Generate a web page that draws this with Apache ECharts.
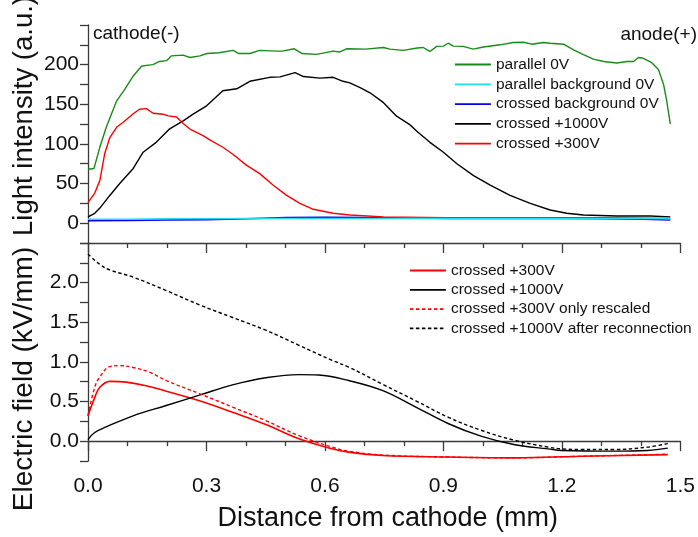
<!DOCTYPE html>
<html>
<head>
<meta charset="utf-8">
<script src="https://cdn.jsdelivr.net/npm/echarts@6/dist/echarts.min.js"></script>
<style>
  html, body { margin: 0; padding: 0; background: #fff; }
  #chart { width: 698px; height: 537px; }
</style>
</head>
<body>
<div id="chart"></div>
<script>
// ---- Light intensity (upper panel) ----
const parallelX = [0, 0.015, 0.03, 0.046, 0.072, 0.093, 0.113, 0.135, 0.147, 0.164, 0.18, 0.198, 0.21, 0.24, 0.257, 0.282, 0.30, 0.33, 0.366, 0.38, 0.408, 0.433, 0.475, 0.49, 0.52, 0.54, 0.576, 0.618, 0.635, 0.652, 0.70, 0.745, 0.761, 0.795, 0.83, 0.845, 0.862, 0.879, 0.896, 0.908, 0.921, 0.946, 0.971, 0.997, 1.039, 1.072, 1.098, 1.119, 1.148, 1.165, 1.199, 1.224, 1.249, 1.274, 1.30, 1.333, 1.359, 1.375, 1.388, 1.40, 1.42, 1.438, 1.451, 1.459, 1.468];
const parallelY = [68, 69, 96, 121, 154, 169, 185, 198, 199, 200, 204, 205, 211, 212, 209, 211, 214, 215, 218, 214, 214, 218, 217, 217, 220, 214, 213, 217, 216, 220, 219.6, 221.6, 219.6, 218, 221, 221.6, 216.6, 223, 223.4, 227, 223.4, 223, 219.6, 222.3, 225, 228, 228.3, 225.8, 228, 227, 225.8, 218.7, 212.5, 207, 204, 202, 204, 204, 209, 208, 203, 194, 175, 154, 125];

const bgX = [0, 0.1, 0.2, 0.3, 0.4, 0.5, 0.6, 0.7, 0.8, 0.9, 1.0, 1.1, 1.2, 1.3, 1.4, 1.468];
const parallelBgY = [5, 5, 5.5, 5.5, 6, 6, 6, 6, 6, 6, 6, 6, 6, 6, 6, 5.5];
const crossedBgY = [3, 3.5, 4, 4.5, 5.5, 7, 7.5, 7, 6.5, 6, 6, 6, 6, 5.5, 5, 4];

const light1000X = [0, 0.017, 0.03, 0.055, 0.08, 0.114, 0.139, 0.172, 0.206, 0.24, 0.265, 0.299, 0.34, 0.375, 0.408, 0.458, 0.484, 0.522, 0.543, 0.585, 0.618, 0.643, 0.66, 0.686, 0.711, 0.745, 0.778, 0.812, 0.829, 0.862, 0.896, 0.93, 0.972, 1.014, 1.064, 1.115, 1.165, 1.207, 1.249, 1.333, 1.417, 1.468];
const light1000Y = [8, 12.5, 19, 35, 50, 69, 89.5, 102, 119, 129, 137.5, 148, 167, 169.5, 179, 184, 184.5, 190, 185, 183, 184, 179, 177, 171, 164.5, 152, 135, 124, 116, 102, 89.5, 75, 60, 48, 35, 25, 16.6, 12.5, 10.4, 9, 9, 8];

const light300X = [0, 0.017, 0.03, 0.042, 0.055, 0.072, 0.088, 0.114, 0.13, 0.147, 0.164, 0.189, 0.202, 0.223, 0.24, 0.257, 0.29, 0.307, 0.34, 0.366, 0.4, 0.433, 0.467, 0.5, 0.534, 0.568, 0.618, 0.66, 0.745, 0.9, 1.1, 1.3, 1.468];
const light300Y = [26, 38, 54, 87.5, 108, 121, 127, 138, 143.7, 144.5, 138.7, 137.5, 135.4, 134, 125.8, 118.7, 110.4, 105, 95.8, 86.6, 72.9, 62.5, 47.9, 35.4, 25, 17.5, 12.5, 10.4, 8, 7, 7, 7, 6];

// ---- Electric field (lower panel) ----
const field300X = [0, 0.017, 0.03, 0.055, 0.097, 0.147, 0.198, 0.282, 0.366, 0.45, 0.534, 0.618, 0.66, 0.745, 0.913, 1.081, 1.249, 1.468];
const field300Y = [0.32, 0.55, 0.68, 0.755, 0.745, 0.70, 0.63, 0.51, 0.365, 0.21, 0.03, -0.096, -0.138, -0.18, -0.20, -0.21, -0.19, -0.17];

const field1000X = [0, 0.017, 0.046, 0.114, 0.198, 0.282, 0.366, 0.45, 0.534, 0.584, 0.66, 0.745, 0.83, 0.913, 0.997, 1.081, 1.165, 1.2, 1.333, 1.417, 1.468];
const field1000Y = [0.02, 0.11, 0.18, 0.32, 0.45, 0.58, 0.71, 0.80, 0.84, 0.835, 0.765, 0.64, 0.43, 0.22, 0.06, -0.045, -0.097, -0.117, -0.126, -0.117, -0.088];

const rescaledX = [0, 0.017, 0.03, 0.055, 0.08, 0.114, 0.156, 0.198, 0.282, 0.366, 0.45, 0.534, 0.618, 0.66, 0.745, 0.913, 1.081, 1.249, 1.468];
const rescaledY = [0.32, 0.68, 0.81, 0.94, 0.953, 0.93, 0.87, 0.765, 0.60, 0.43, 0.26, 0.07, -0.075, -0.126, -0.175, -0.20, -0.21, -0.19, -0.165];

const reconnX = [0, 0.03, 0.055, 0.114, 0.198, 0.282, 0.366, 0.45, 0.534, 0.618, 0.66, 0.745, 0.83, 0.913, 0.997, 1.081, 1.165, 1.2, 1.249, 1.333, 1.417, 1.468];
const reconnY = [2.36, 2.23, 2.16, 2.07, 1.90, 1.72, 1.56, 1.40, 1.21, 1.02, 0.935, 0.72, 0.51, 0.30, 0.135, 0.01, -0.075, -0.097, -0.105, -0.105, -0.075, -0.03];

const topLegend = ['parallel 0V', 'parallel background 0V', 'crossed background 0V', 'crossed +1000V', 'crossed +300V'];
const bottomLegend = ['crossed +300V ', 'crossed +1000V ', 'crossed +300V only rescaled', 'crossed +1000V after reconnection'];

const FONT = '"Liberation Sans", Arial, Helvetica, sans-serif';
const AXIS_COLOR = '#3a3a3a';
const TEXT_COLOR = '#111';

function pairs(xs, ys) { return xs.map((x, i) => [x, ys[i]]); }

function line(name, xs, ys, color, idx, opts) {
  opts = opts || {};
  return {
    name: name,
    type: 'line',
    xAxisIndex: idx,
    yAxisIndex: idx === 0 ? 0 : 1,
    data: pairs(xs, ys),
    symbol: 'none',
    smooth: opts.smooth || false,
    z: opts.z || 2,
    lineStyle: { color: color, width: opts.width || 1.4, type: opts.dash || 'solid' },
    itemStyle: { color: color },
    emphasis: { disabled: true },
    animation: false
  };
}

const chart = echarts.init(document.getElementById('chart'), null, { renderer: 'canvas' });

const legendText = { fontFamily: FONT, fontSize: 15.5, color: TEXT_COLOR };

chart.setOption({
  backgroundColor: '#fff',
  animation: false,
  grid: [
    { left: 88, top: 25, width: 595, height: 218 },
    { left: 88, top: 243, width: 595, height: 218 }
  ],
  legend: [
    {
      data: topLegend, left: 449, top: 51.5, orient: 'vertical',
      itemWidth: 36, itemHeight: 14, itemGap: 3.8,
      itemStyle: { opacity: 0 },
      lineStyle: { width: 1.8 },
      textStyle: legendText, selectedMode: false
    },
    {
      data: bottomLegend, left: 404, top: 257.5, orient: 'vertical',
      itemWidth: 36, itemHeight: 14, itemGap: 3.3,
      itemStyle: { opacity: 0 },
      lineStyle: { width: 1.8 },
      textStyle: legendText, selectedMode: false
    }
  ],
  xAxis: [
    { gridIndex: 0, type: 'value', min: 0, max: 1.5, show: false },
    {
      gridIndex: 1, type: 'value', min: 0, max: 1.5, interval: 0.3, position: 'bottom',
      axisLine: { lineStyle: { color: AXIS_COLOR, width: 1.3 } },
      axisTick: { show: true, length: 10, lineStyle: { color: AXIS_COLOR, width: 1.3 } },
      minorTick: { show: true, splitNumber: 3, length: 5, lineStyle: { color: AXIS_COLOR, width: 1.3 } },
      splitLine: { show: false },
      axisLabel: {
        fontFamily: FONT, fontSize: 21, color: TEXT_COLOR, margin: 15,
        formatter: v => v.toFixed(1)
      },
      name: 'Distance from cathode (mm)', nameLocation: 'middle', nameGap: 44,
      nameTextStyle: { fontFamily: FONT, fontSize: 27, color: TEXT_COLOR, padding: [0, 0, 0, 7] }
    },
    {
      gridIndex: 1, type: 'value', min: 0, max: 1.5, interval: 0.3, position: 'top',
      axisLine: { lineStyle: { color: AXIS_COLOR, width: 1.3 } },
      axisTick: { show: true, inside: true, length: 10, lineStyle: { color: AXIS_COLOR, width: 1.3 } },
      minorTick: { show: true, splitNumber: 3, length: 5, lineStyle: { color: AXIS_COLOR, width: 1.3 } },
      splitLine: { show: false },
      axisLabel: { show: false }
    }
  ],
  yAxis: [
    {
      gridIndex: 0, type: 'value', min: -25, max: 250, interval: 25,
      axisLine: { show: true, lineStyle: { color: AXIS_COLOR, width: 1.3 } },
      axisTick: { show: true, length: 8, lineStyle: { color: AXIS_COLOR, width: 1.3 } },
      splitLine: { show: false },
      axisLabel: {
        fontFamily: FONT, fontSize: 21, color: TEXT_COLOR, margin: 9,
        formatter: v => (v >= 0 && v <= 200 && v % 50 === 0) ? String(v) : ''
      }
    },
    {
      gridIndex: 1, type: 'value', min: -0.25, max: 2.5, interval: 0.25,
      axisLine: { show: true, lineStyle: { color: AXIS_COLOR, width: 1.3 } },
      axisTick: { show: true, length: 8, lineStyle: { color: AXIS_COLOR, width: 1.3 } },
      splitLine: { show: false },
      axisLabel: {
        fontFamily: FONT, fontSize: 21, color: TEXT_COLOR, margin: 9,
        formatter: v => {
          const k = Math.round(v * 4);
          return (k >= 0 && k <= 8 && k % 2 === 0) ? (k / 4).toFixed(1) : '';
        }
      }
    }
  ],
  graphic: [
    {
      type: 'text', x: 24, y: 116, rotation: Math.PI / 2,
      style: { text: 'Light intensity (a.u.)', font: '27.5px ' + FONT, fill: TEXT_COLOR, align: 'center', verticalAlign: 'middle' }
    },
    {
      type: 'text', x: 24, y: 379, rotation: Math.PI / 2,
      style: { text: 'Electric field (kV/mm)', font: '28px ' + FONT, fill: TEXT_COLOR, align: 'center', verticalAlign: 'middle' }
    },
    {
      type: 'text', x: 93, y: 34,
      style: { text: 'cathode(-)', font: '19px ' + FONT, fill: TEXT_COLOR, align: 'left', verticalAlign: 'middle' }
    },
    {
      type: 'text', x: 697, y: 35,
      style: { text: 'anode(+)', font: '19px ' + FONT, fill: TEXT_COLOR, align: 'right', verticalAlign: 'middle' }
    }
  ],
  series: [
    line('parallel 0V', parallelX, parallelY, '#1a8a1a', 0),
    line('crossed background 0V', bgX, crossedBgY, '#0000ee', 0, { width: 1.6 }),
    line('parallel background 0V', bgX, parallelBgY, '#22dcf0', 0, { width: 1.6, z: 3 }),
    line('crossed +1000V', light1000X, light1000Y, '#000000', 0),
    line('crossed +300V', light300X, light300Y, '#ff0000', 0),
    line('crossed +300V ', field300X, field300Y, '#ff0000', 1, { smooth: 0.4, width: 1.6 }),
    line('crossed +1000V ', field1000X, field1000Y, '#000000', 1, { smooth: 0.4, width: 1.4 }),
    line('crossed +300V only rescaled', rescaledX, rescaledY, '#ff0000', 1, { smooth: 0.4, width: 1.4, dash: [3.5, 2.5] }),
    line('crossed +1000V after reconnection', reconnX, reconnY, '#000000', 1, { smooth: 0.4, width: 1.4, dash: [3.5, 2.5] })
  ]
});
</script>
</body>
</html>
